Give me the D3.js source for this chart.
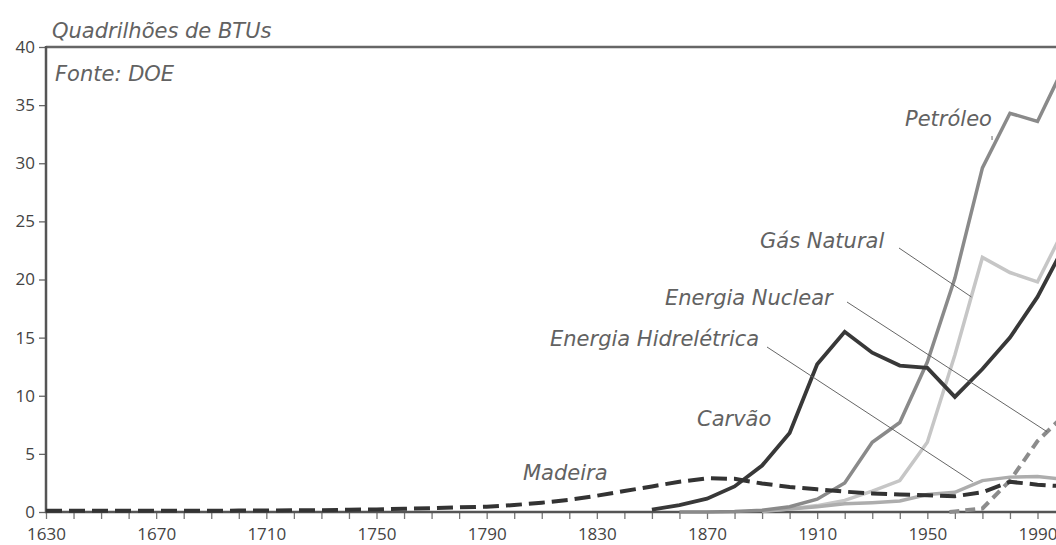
<!DOCTYPE html>
<html>
<head>
<meta charset="utf-8">
<script src="https://cdn.jsdelivr.net/npm/d3@7/dist/d3.min.js"></script>
<style>
  html, body { margin: 0; padding: 0; background: #fff; overflow: hidden; }
  svg { display: block; }
  .tick text { font-family: "Open Sans", "Noto Sans", sans-serif; font-size: 17px; fill: #444; }
  .lbl { font-family: "DejaVu Sans", sans-serif; font-style: italic; font-weight: 200; font-size: 21px; fill: #626262; }
</style>
</head>
<body>
<svg id="chart" width="1056" height="545"></svg>
<script>
// ---- Data (quadrillion BTU) ----
const madeiraYears = [1630,1640,1650,1660,1670,1680,1690,1700,1710,1720,1730,1740,1750,1760,1770,1780,1790,1800,1810,1820,1830,1840,1850,1860,1870,1880,1890,1900,1910,1920,1930,1940,1950,1960,1970,1980,1990,2000];
const madeiraValues = [0.1,0.1,0.1,0.1,0.1,0.1,0.1,0.12,0.12,0.15,0.15,0.2,0.22,0.28,0.33,0.4,0.45,0.6,0.8,1.05,1.4,1.8,2.2,2.6,2.9,2.85,2.45,2.15,1.95,1.75,1.6,1.5,1.45,1.35,1.7,2.6,2.35,2.2];

const carvaoYears = [1850,1860,1870,1880,1890,1900,1910,1920,1930,1940,1950,1960,1970,1980,1990,2000];
const carvaoValues = [0.2,0.6,1.15,2.2,4.0,6.8,12.7,15.5,13.7,12.6,12.4,9.9,12.3,15.0,18.5,23.0];

const petroleoYears = [1860,1870,1880,1890,1900,1910,1920,1930,1940,1950,1960,1970,1980,1990,2000];
const petroleoValues = [0.0,0.01,0.05,0.15,0.45,1.1,2.5,6.0,7.7,12.9,20.1,29.6,34.3,33.6,38.5];

const gasYears = [1890,1900,1910,1920,1930,1940,1950,1960,1970,1980,1990,2000];
const gasValues = [0.1,0.25,0.55,1.0,1.8,2.7,6.0,13.5,21.9,20.6,19.8,24.5];

const hidroYears = [1890,1900,1910,1920,1930,1940,1950,1960,1970,1980,1990,2000];
const hidroValues = [0.05,0.25,0.45,0.7,0.8,0.95,1.5,1.7,2.7,3.0,3.05,2.8];

const nuclearYears = [1958,1960,1970,1980,1990,2000];
const nuclearValues = [0.0,0.05,0.3,2.7,6.1,8.4];

const yTickValues = [0,5,10,15,20,25,30,35,40];
const xTickLabels = [1630,1670,1710,1750,1790,1830,1870,1910,1950,1990];
const xMinorTicks = d3.range(1630, 2001, 10);

const titleText = "Quadrilhões de BTUs";
const sourceText = "Fonte: DOE";

// ---- Scales ----
const svg = d3.select("#chart");
const x = d3.scaleLinear().domain([1630, 1990]).range([46, 1037.5]);
const y = d3.scaleLinear().domain([0, 40]).range([512, 47]);

const zip = (ys, vs) => ys.map((yr, i) => ({ year: yr, v: vs[i] }));
const line = d3.line().x(d => x(d.year)).y(d => y(d.v));

// ---- Axes ----
const yAxis = d3.axisLeft(y).tickValues(yTickValues).tickSize(7).tickPadding(4).tickFormat(d3.format("d"));
const gy = svg.append("g").attr("transform", `translate(${x(1630)},0)`).call(yAxis);
gy.select(".domain").remove();
gy.selectAll(".tick line").attr("stroke", "#666").attr("stroke-width", 1.3);

const xAxis = d3.axisBottom(x).tickValues(xMinorTicks).tickSize(7).tickPadding(9)
  .tickFormat(d => xTickLabels.includes(d) ? String(d) : "");
const gx = svg.append("g").attr("transform", `translate(0,${y(0)})`).call(xAxis);
gx.select(".domain").remove();
gx.selectAll(".tick line").attr("stroke", "#777").attr("stroke-width", 1.3);

// frame
svg.append("line").attr("x1", x(1630)).attr("x2", x(2010)).attr("y1", y(40)).attr("y2", y(40))
  .attr("stroke", "#666").attr("stroke-width", 2.5);
svg.append("line").attr("x1", x(1630)).attr("x2", x(1630)).attr("y1", y(40) - 1).attr("y2", y(0) + 1)
  .attr("stroke", "#555").attr("stroke-width", 2.5);
svg.append("line").attr("x1", x(1630) - 1).attr("x2", x(2010)).attr("y1", y(0)).attr("y2", y(0))
  .attr("stroke", "#555").attr("stroke-width", 2.5);

// ---- Series ----
const series = [
  { name: "gas", data: zip(gasYears, gasValues), color: "#c6c6c6", width: 3.5, dash: null },
  { name: "hidro", data: zip(hidroYears, hidroValues), color: "#adadad", width: 3.5, dash: null },
  { name: "petroleo", data: zip(petroleoYears, petroleoValues), color: "#8a8a8a", width: 3.5, dash: null },
  { name: "nuclear", data: zip(nuclearYears, nuclearValues), color: "#8c8c8c", width: 4, dash: "10,6" },
  { name: "carvao", data: zip(carvaoYears, carvaoValues), color: "#383838", width: 3.8, dash: null },
  { name: "madeira", data: zip(madeiraYears, madeiraValues), color: "#333", width: 4, dash: "16,7" }
];
svg.append("g").selectAll("path").data(series).join("path")
  .attr("d", s => line(s.data))
  .attr("fill", "none")
  .attr("stroke", s => s.color)
  .attr("stroke-width", s => s.width)
  .attr("stroke-dasharray", s => s.dash)
  .attr("stroke-linejoin", "miter");

// ---- Labels ----
svg.append("text").attr("class", "lbl").attr("x", 52).attr("y", 38).text(titleText);
svg.append("text").attr("class", "lbl").attr("x", 55).attr("y", 81).text(sourceText);

const labels = [
  { t: "Petróleo", x: 905, y: 126 },
  { t: "Gás Natural", x: 760, y: 248 },
  { t: "Energia Nuclear", x: 665, y: 305 },
  { t: "Energia Hidrelétrica", x: 550, y: 346 },
  { t: "Carvão", x: 697, y: 426 },
  { t: "Madeira", x: 523, y: 480 }
];
svg.append("g").selectAll("text").data(labels).join("text")
  .attr("class", "lbl").attr("x", d => d.x).attr("y", d => d.y).text(d => d.t);

// leader lines: from label end to a point on the series
const leaders = [
  { x1: 992, y1: 136, year: 1973.5, v: 32.0 },
  { x1: 899, y1: 248, year: 1966, v: 18.5 },
  { x1: 847, y1: 302, year: 1993.5, v: 6.9 },
  { x1: 767, y1: 347, year: 1966.5, v: 2.6 }
];
svg.append("g").selectAll("line").data(leaders).join("line")
  .attr("x1", d => d.x1).attr("y1", d => d.y1)
  .attr("x2", d => x(d.year)).attr("y2", d => y(d.v))
  .attr("stroke", "#666").attr("stroke-width", 1);
</script>
</body>
</html>
